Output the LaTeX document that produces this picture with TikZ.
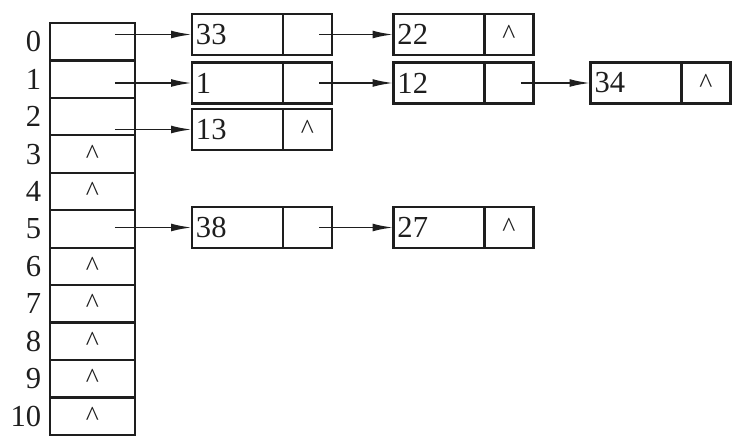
\documentclass[tikz,border=0pt]{standalone}
\usepackage{fontspec}
\setmainfont{Liberation Serif}
\usetikzlibrary{arrows.meta,positioning,calc}
\definecolor{ink}{HTML}{1E1E1E}
\newcommand{\nilptr}{\textasciicircum}
\tikzset{
  every node/.append style = {text=ink, font=\fontsize{11}{13}\selectfont},
  >=Latex,
  % --- hash table ---------------------------------------------------------
  slot/.style    = {draw=ink, line width=0.8pt, outer sep=0pt, inner sep=0pt,
                    minimum width=30.6pt, minimum height=13.48pt},
  idx/.style     = {inner sep=3pt},
  % --- chain nodes --------------------------------------------------------
  keybox/.style  = {draw=ink, line width=0.8pt, outer sep=0pt,
                    minimum height=14.76pt, text width=29.88pt,
                    inner xsep=1.44pt, align=left},
  nextbox/.style = {draw=ink, line width=0.8pt, outer sep=0pt,
                    minimum height=14.76pt, minimum width=17.64pt},
  nilmark/.style = {inner sep=0pt, font=\fontsize{10}{12}\selectfont},
  % --- relations ----------------------------------------------------------
  link/.style    = {draw=ink, line width=0.7pt,
                    -{Latex[length=7.5pt,width=2.8pt]}},
}

\begin{document}
\begin{tikzpicture}[x=0.36pt, y=-0.36pt]
\useasboundingbox (0,0) rectangle (739,445);

% ------------------------------- table -------------------------------------
\foreach \i in {0,...,10}{
  \node[slot] (cell\i) at (92.5,{23+37.45*(\i+0.5)}) {};
  \node[idx, left=0pt of cell\i] (lbl\i) {\i};
}
\foreach \i in {3,4,6,7,8,9,10}{ \node[nilmark] (nil\i) at (cell\i) {\nilptr}; }

% ------------------------------- chains ------------------------------------
\foreach \k/\x/\y in {33/237.5/34.5, 22/439/34.5,
                      1/237.5/83, 12/439/83, 34/636/83,
                      13/237.5/129.5,
                      38/237.5/227.5, 27/439/227.5}{
  \node[keybox] (k\k) at (\x,\y) {\k};
  \node[nextbox, right=0pt of k\k] (n\k) {};
}
\foreach \k in {22,34,13,27}{ \node[nilmark] (end\k) at (n\k) {\nilptr}; }

% ------------------------------- links -------------------------------------
\foreach \i in {0,1,2,5}{ \coordinate (tail\i) at ($(cell\i.center)+(22.5,0)$); }
\foreach \i/\k in {0/33, 1/1, 2/13, 5/38}{ \draw[link] (tail\i |- k\k) -- (k\k); }
\foreach \a/\b in {33/22, 1/12, 12/34, 38/27}{
  \draw[link] ($(n\a.center)+(12,0)$) -- (k\b);
}

\end{tikzpicture}
\end{document}
